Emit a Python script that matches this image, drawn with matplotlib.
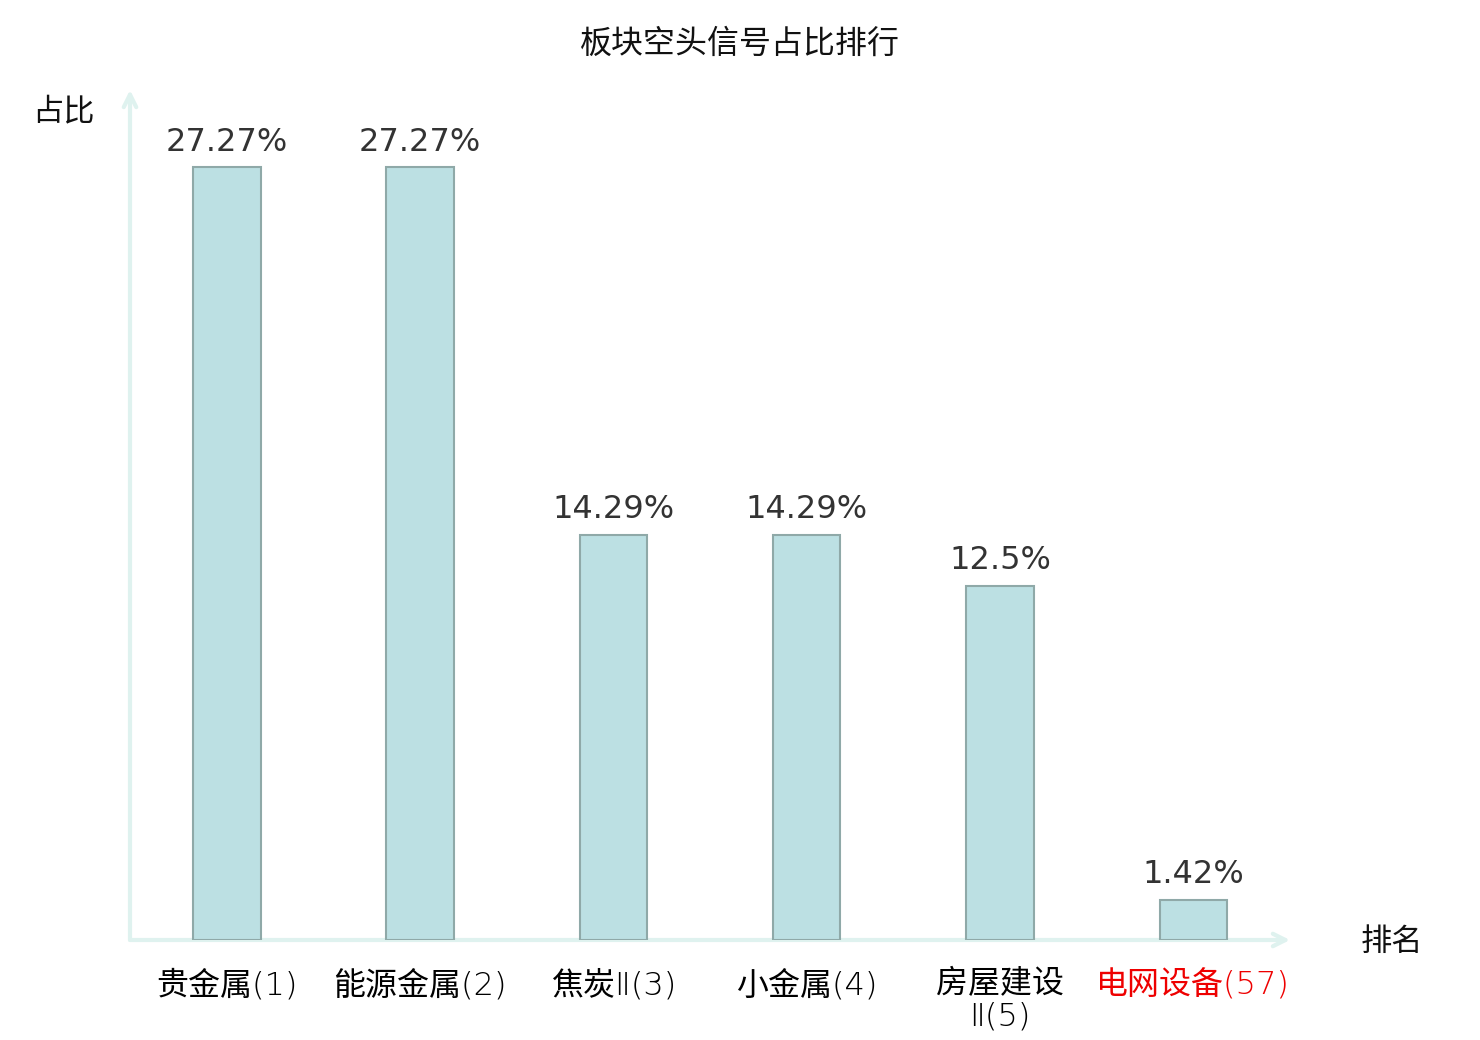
import matplotlib
matplotlib.use("Agg")
import matplotlib.pyplot as plt

plt.rcParams['font.family'] = ['Noto Sans CJK SC', 'DejaVu Sans']

categories = ["贵金属(1)", "能源金属(2)", "焦炭Ⅱ(3)", "小金属(4)", "房屋建设\nⅡ(5)", "电网设备(57)"]
values = [27.27, 27.27, 14.29, 14.29, 12.5, 1.42]
value_labels = ["27.27%", "27.27%", "14.29%", "14.29%", "12.5%", "1.42%"]
label_colors = ["#000000", "#000000", "#000000", "#000000", "#000000", "#ee0000"]

W, H = 1480, 1040
fig = plt.figure(figsize=(W / 100, H / 100), dpi=100)
ax = fig.add_axes([130 / W, 1 - 940 / H, 1160 / W, 850 / H])

x = list(range(len(categories)))
bars = ax.bar(x, values, width=0.35, color="#bce0e3", edgecolor="#8fa9a8", linewidth=1.5, zorder=3)

for xi, v, lab in zip(x, values, value_labels):
    ax.annotate(lab, (xi, v), xytext=(0, 7), textcoords="offset points",
                ha="center", va="bottom", fontsize=23, color="#333333",
                family=['DejaVu Sans', 'Noto Sans CJK SC'])

ax.set_xlim(-0.5, 5.5)
ax.set_ylim(0, 30)
for s in ax.spines.values():
    s.set_visible(False)
ax.set_yticks([])
ax.set_xticks(x)
ax.set_xticklabels(categories, fontsize=23, linespacing=1.1,
                   family=['DejaVu Sans', 'Noto Sans CJK SC'], fontweight='light')
for t, c in zip(ax.get_xticklabels(), label_colors):
    t.set_color(c)
ax.tick_params(axis="x", length=0, pad=21)

axis_color = "#dff2ef"
ax.annotate("", xy=(1.0, 0), xytext=(0, 0), xycoords="axes fraction",
            arrowprops=dict(arrowstyle="->,head_length=0.9,head_width=0.45", color=axis_color, lw=3,
                            shrinkA=0, shrinkB=0), zorder=1)
ax.annotate("", xy=(0, 1.0), xytext=(0, 0), xycoords="axes fraction",
            arrowprops=dict(arrowstyle="->,head_length=0.9,head_width=0.45", color=axis_color, lw=3,
                            shrinkA=0, shrinkB=0), zorder=1)

fig.text(63 / W, 1 - 111 / H, "占比", ha="center", va="center", fontsize=22.5, color="#111111")
fig.text(1392 / W, 1 - 942 / H, "排名", ha="center", va="center", fontsize=22.5, color="#111111")
fig.text(740 / W, 1 - 44 / H, "板块空头信号占比排行", ha="center", va="center", fontsize=23, color="#111111")

fig.savefig("out.png", dpi=100, facecolor="white")
